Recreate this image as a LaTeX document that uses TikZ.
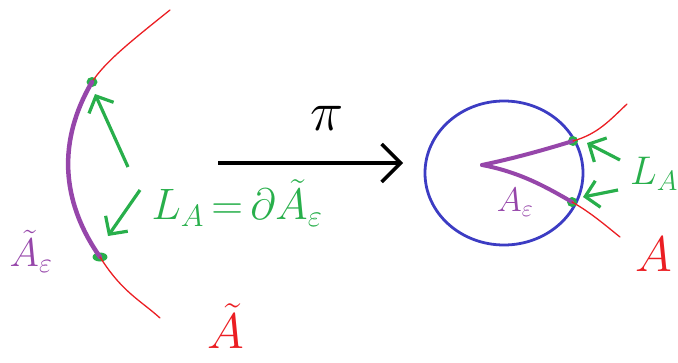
\RequirePackage{fix-cm}
\documentclass[tikz,border=0pt]{standalone}
\usetikzlibrary{arrows.meta, shapes.geometric}
\definecolor{penred}{RGB}{235,30,35}
\definecolor{penpurple}{RGB}{150,70,170}
\definecolor{pengreen}{RGB}{40,175,75}
\definecolor{penblue}{RGB}{60,60,195}
\begin{document}
\begin{tikzpicture}[x=1pt, y=-1pt,
          curve/.style={draw=penred, line width=1.3pt, line cap=round},
          band/.style={draw=penpurple, line width=4.5pt, line cap=round},
          dot/.style={ellipse, fill=pengreen, inner sep=0pt, minimum width=11pt, minimum height=10pt},
          pointer/.style={-{Straight Barb[length=13pt, width=27pt, line width=3.2pt]}, draw=pengreen, line width=3.2pt},
          mapto/.style={-{Straight Barb[length=19pt, width=38pt, line width=3.5pt]}, draw=black, line width=3.5pt},
          lbl/.style={font=\fontsize{44}{46}\selectfont}]
        \useasboundingbox (0,0) rectangle (678,362);
        % left picture: the lifted curve
        \coordinate (ltop) at (170,10);
        \coordinate (lbot) at (160,318);
        \node[dot] (lup) at (92,82) {};
        \node[dot, minimum width=15pt, minimum height=9pt] (llow) at (100,257) {};
        \draw[curve] (ltop) .. controls (130,42) and (105,62) .. (lup.center);
        \draw[curve] (lup.center) .. controls (58,140) and (60,200) .. (llow.center);
        \draw[band] (lup.center) .. controls (58,140) and (60,200) .. (llow.center);
        \draw[curve] (llow.center) .. controls (122,292) and (140,300) .. (lbot);
        \coordinate (pa) at (128,167);
        \coordinate (pb) at (140,190);
        \draw[pointer] (pa) -- (95,94);
        \draw[pointer] (pb) -- (108,236);
        \node[lbl, text=pengreen] (lhs) at (237,203) {$L_A\,{=}\,\partial\tilde{A}_\varepsilon$};
        \node[lbl, text=penpurple, font=\fontsize{40}{42}\selectfont] (aepsl) at (31,251) {$\tilde{A}_\varepsilon$};
        \node[lbl, text=penred, font=\fontsize{50}{52}\selectfont] (atl) at (226,326) {$\tilde{A}$};
        % the map
        \coordinate (mfrom) at (218,163);
        \coordinate (mto) at (403,163);
        \draw[mapto] (mfrom) -- (mto);
        \node[lbl, font=\fontsize{56}{58}\selectfont] (pi) at (327,118) {$\pi$};
        % right picture: the cusp in the disk
        \coordinate (disk) at (504,173);
        \draw[penblue, line width=2.8pt] (disk) ellipse [x radius=79pt, y radius=72pt];
        \coordinate (tip) at (482,165);
        \node[dot, minimum size=10pt] (rup) at (573,141) {};
        \node[dot, minimum size=10pt] (rlow) at (572,202) {};
        \draw[band, line width=4pt] (tip) .. controls (520,157) and (550,148) .. (rup.center);
        \draw[band, line width=4pt] (tip) .. controls (520,172) and (548,188) .. (rlow.center);
        \draw[curve] (rup.center) .. controls (598,134) and (610,120) .. (627,104);
        \draw[curve] (rlow.center) .. controls (590,212) and (605,225) .. (620,237);
        \coordinate (qa) at (620,160);
        \coordinate (qb) at (618,190);
        \draw[pointer] (qa) -- (587,143);
        \draw[pointer] (qb) -- (583,197);
        \node[lbl, text=pengreen, font=\fontsize{40}{42}\selectfont] (lhsr) at (654,174) {$L_A$};
        \node[lbl, text=penpurple, font=\fontsize{34}{36}\selectfont] (aepsr) at (515,202) {$A_\varepsilon$};
        \node[lbl, text=penred, font=\fontsize{50}{52}\selectfont] (ar) at (654,254) {$A$};
      \end{tikzpicture}
\end{document}
